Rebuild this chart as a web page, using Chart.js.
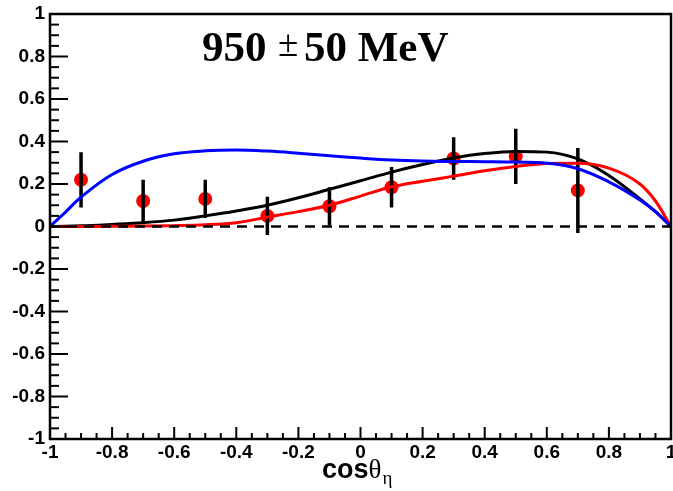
<!DOCTYPE html>
<html>
<head>
<meta charset="utf-8">
<script src="https://cdn.jsdelivr.net/npm/chart.js@4"></script>
<style>
  html, body { margin: 0; padding: 0; background: #fff; }
  #wrap { width: 673px; height: 491px; }
</style>
</head>
<body>
<div id="wrap"><canvas id="chart"></canvas></div>
<script>
// measured points with errors
const pointX = [-0.9, -0.7, -0.5, -0.3, -0.1, 0.1, 0.3, 0.5, 0.7];
const pointY = [0.22, 0.12, 0.13, 0.05, 0.095, 0.185, 0.32, 0.33, 0.17];
const pointErr = [0.13, 0.10, 0.09, 0.09, 0.09, 0.095, 0.10, 0.13, 0.20];

// fit curves
const curveX = [-1, -0.95, -0.9, -0.8, -0.7, -0.6, -0.5, -0.4, -0.3, -0.2, -0.1, 0, 0.1, 0.2, 0.3, 0.4, 0.5, 0.6, 0.7, 0.8, 0.9, 0.95, 1];
const blueY  = [0, 0.068, 0.138, 0.245, 0.307, 0.342, 0.356, 0.36, 0.355, 0.345, 0.333, 0.322, 0.313, 0.308, 0.306, 0.305, 0.303, 0.298, 0.272, 0.21, 0.125, 0.07, 0];
const blackY = [0, 0.001, 0.003, 0.01, 0.018, 0.03, 0.05, 0.073, 0.10, 0.135, 0.175, 0.215, 0.256, 0.292, 0.322, 0.343, 0.353, 0.35, 0.318, 0.24, 0.13, 0.07, 0];
const redY   = [0, 0, 0, 0.001, 0.002, 0.004, 0.008, 0.018, 0.044, 0.07, 0.10, 0.143, 0.187, 0.213, 0.237, 0.262, 0.282, 0.297, 0.298, 0.275, 0.2, 0.12, 0];

const xTicks = [-1, -0.8, -0.6, -0.4, -0.2, 0, 0.2, 0.4, 0.6, 0.8, 1];
const yTicks = [-1, -0.8, -0.6, -0.4, -0.2, 0, 0.2, 0.4, 0.6, 0.8, 1];

const toXY = (xs, ys) => xs.map((x, i) => ({ x: x, y: ys[i] }));

// error bars as broken line: lo, hi, gap
const errData = [];
pointX.forEach((x, i) => {
  errData.push({ x: x, y: pointY[i] - pointErr[i] });
  errData.push({ x: x, y: pointY[i] + pointErr[i] });
  errData.push({ x: x, y: null });
});

const fmt = v => String(Math.round(v * 10) / 10);

// ROOT style frame, inward ticks, title and axis label
const decor = {
  id: 'decor',
  afterDraw(chart) {
    const { ctx, chartArea: a, scales } = chart;
    const sx = scales.x, sy = scales.y;
    ctx.save();
    ctx.setLineDash([]);
    ctx.strokeStyle = '#000';
    ctx.lineWidth = 2;
    ctx.lineCap = 'butt';
    // minor + major ticks
    for (let i = -20; i <= 20; i++) {
      const v = i * 0.05;
      const major = Math.abs(i) % 4 === 0;
      const px = sx.getPixelForValue(v);
      ctx.beginPath();
      ctx.moveTo(px, a.bottom);
      ctx.lineTo(px, a.bottom - (major ? 12 : 6));
      ctx.stroke();
      const py = sy.getPixelForValue(v);
      ctx.beginPath();
      ctx.moveTo(a.left, py);
      ctx.lineTo(a.left + (major ? 18 : 9), py);
      ctx.stroke();
    }
    // frame
    ctx.lineWidth = 2.5;
    ctx.strokeRect(a.left, a.top, a.right - a.left, a.bottom - a.top);

    // title
    ctx.fillStyle = '#000';
    ctx.textBaseline = 'alphabetic';
    ctx.textAlign = 'left';
    const ty = 61;
    ctx.font = 'bold 43px "Liberation Serif"';
    ctx.fillText('950', 202, ty);
    ctx.font = '37px "Liberation Serif"';
    ctx.fillText('\u00b1', 278, ty - 5);
    ctx.font = 'bold 43px "Liberation Serif"';
    ctx.fillText('50 MeV', 304, ty);

    // x axis label cos(theta)_eta
    let lx = 322;
    const ly = 478;
    ctx.font = 'bold 27px "Liberation Sans"';
    ctx.fillText('cos', lx, ly);
    lx += ctx.measureText('cos').width;
    ctx.font = '27px "Liberation Serif"';
    ctx.fillText('\u03b8', lx, ly);
    lx += ctx.measureText('\u03b8').width + 1;
    ctx.font = '19px "Liberation Serif"';
    ctx.fillText('\u03b7', lx, ly + 6);
    ctx.restore();
  }
};

const ctx = document.getElementById('chart').getContext('2d');

new Chart(ctx, {
  type: 'line',
  data: {
    datasets: [
      {
        label: 'zero',
        data: [{ x: -1, y: 0 }, { x: 1, y: 0 }],
        borderColor: '#000',
        borderWidth: 2.5,
        borderDash: [10, 7],
        pointRadius: 0
      },
      {
        label: 'blue',
        data: toXY(curveX, blueY),
        borderColor: '#0000ff',
        borderWidth: 3,
        pointRadius: 0,
        tension: 0.4
      },
      {
        label: 'red',
        data: toXY(curveX, redY),
        borderColor: '#ff0000',
        borderWidth: 3,
        pointRadius: 0,
        cubicInterpolationMode: 'monotone'
      },
      {
        label: 'black',
        data: toXY(curveX, blackY),
        borderColor: '#000',
        borderWidth: 3,
        pointRadius: 0,
        cubicInterpolationMode: 'monotone'
      },
      {
        label: 'errors',
        data: errData,
        borderColor: '#000',
        borderWidth: 3.5,
        pointRadius: 0,
        spanGaps: false
      },
      {
        label: 'data',
        data: toXY(pointX, pointY),
        showLine: false,
        pointRadius: 7,
        pointBackgroundColor: '#ff0000',
        pointBorderColor: '#ff0000',
        pointBorderWidth: 0
      }
    ]
  },
  options: {
    responsive: true,
    maintainAspectRatio: false,
    animation: false,
    events: [],
    layout: { autoPadding: false, padding: { top: 14, right: 2, left: 0, bottom: 0 } },
    plugins: {
      legend: { display: false },
      tooltip: { enabled: false }
    },
    scales: {
      x: {
        type: 'linear',
        min: -1,
        max: 1,
        afterFit: s => { s.height = 52; s.paddingLeft = 0; s.paddingRight = 0; },
        afterBuildTicks: s => { s.ticks = xTicks.map(v => ({ value: v })); },
        grid: { display: false, drawTicks: false },
        border: { display: false },
        ticks: {
          padding: 2,
          maxRotation: 0,
          autoSkip: false,
          color: '#000',
          font: { family: 'Liberation Sans', size: 19, weight: 'bold' },
          callback: fmt
        }
      },
      y: {
        type: 'linear',
        min: -1,
        max: 1,
        afterFit: s => { s.width = 50; s.paddingTop = 0; s.paddingBottom = 0; },
        afterBuildTicks: s => { s.ticks = yTicks.map(v => ({ value: v })); },
        grid: { display: false, drawTicks: false },
        border: { display: false },
        ticks: {
          padding: 5,
          autoSkip: false,
          color: '#000',
          font: { family: 'Liberation Sans', size: 19, weight: 'bold' },
          callback: fmt
        }
      }
    }
  },
  plugins: [decor]
});
</script>
</body>
</html>
